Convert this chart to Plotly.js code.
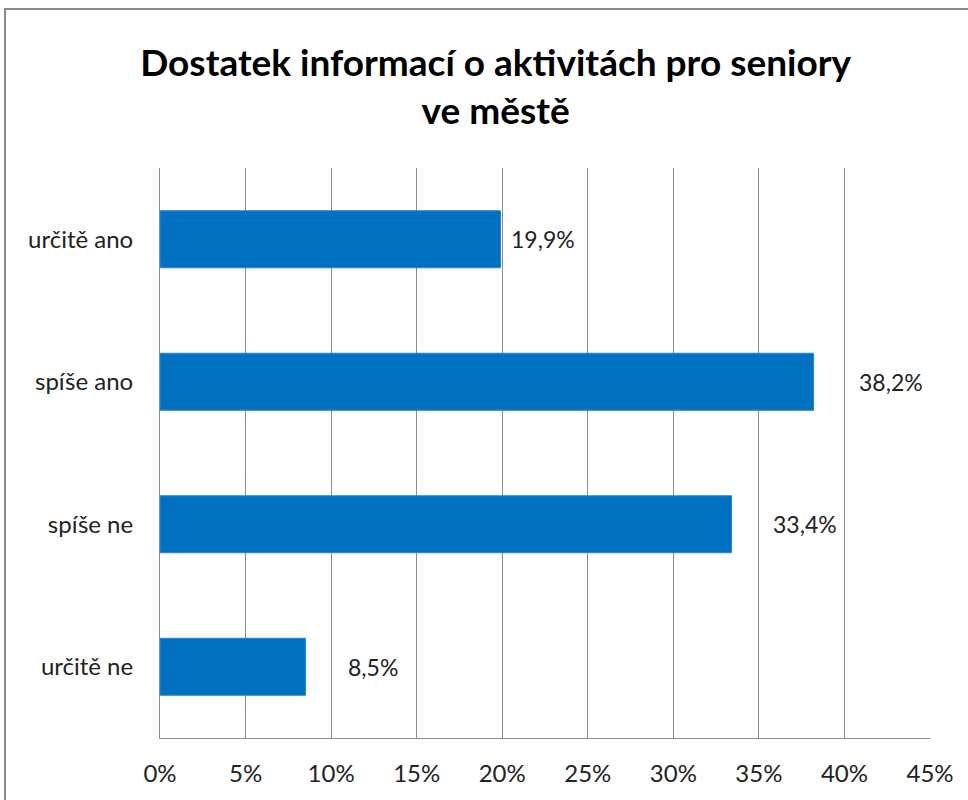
<!DOCTYPE html>
<html><head><meta charset="utf-8">
<script src="https://cdn.plot.ly/plotly-3.0.1.min.js"></script>
<style>
html,body{margin:0;padding:0;background:#fff;overflow:hidden}
#chart{position:absolute;left:0;top:0;width:968px;height:800px}
#frame{position:absolute;left:4px;top:8px;width:990px;height:820px;border:2px solid #8c8c8c;pointer-events:none}
</style></head>
<body>
<div id="chart"></div>
<div id="frame"></div>
<script>
const categories = ["určitě ano", "spíše ano", "spíše ne", "určitě ne"];
const values = [19.9, 38.2, 33.4, 8.5];
const labels = ["19,9%", "38,2%", "33,4%", "8,5%"];
const tickVals = [0, 5, 10, 15, 20, 25, 30, 35, 40, 45];
const tickText = ["0%", "5%", "10%", "15%", "20%", "25%", "30%", "35%", "40%", "45%"];
const labelShift = [8, 43, 39, 41];

const font = "Lato, 'Open Sans', sans-serif";

const trace = {
  type: "bar",
  orientation: "h",
  x: values,
  y: categories,
  marker: {color: "#0070c0", line: {color: "#2a85cc", width: 1}},
  hoverinfo: "none"
};

const annotations = values.map((v, i) => ({
  x: v, y: categories[i], xref: "x", yref: "y",
  text: labels[i], showarrow: false, xanchor: "left", yanchor: "middle",
  xshift: labelShift[i],
  font: {family: font, size: 23, color: "#222"}
}));

const layout = {
  width: 968, height: 800,
  margin: {l: 160, r: 38, t: 168, b: 62},
  paper_bgcolor: "#fff", plot_bgcolor: "#fff",
  showlegend: false,
  bargap: 0.6,
  title: {
    text: "<b>Dostatek informací o aktivitách pro seniory<br>ve městě</b>",
    font: {family: font, size: 37, color: "#000"},
    x: 0.512, xanchor: "center", y: 0.905, yanchor: "top"
  },
  xaxis: {
    range: [0, 45], tickvals: tickVals, ticktext: tickText,
    showgrid: true, gridcolor: "#8c8c8c", gridwidth: 1,
    showline: true, linecolor: "#8c8c8c", linewidth: 1,
    zeroline: false, ticks: "", ticklabelstandoff: 14,
    tickfont: {family: font, size: 24, color: "#222"}, fixedrange: true
  },
  yaxis: {
    autorange: "reversed", showgrid: false,
    showline: true, linecolor: "#8c8c8c", linewidth: 1,
    ticks: "", ticklabelstandoff: 21,
    tickfont: {family: font, size: 24, color: "#222"}, fixedrange: true
  },
  annotations: annotations
};

Plotly.newPlot("chart", [trace], layout, {displayModeBar: false, staticPlot: true});
</script>
</body></html>
